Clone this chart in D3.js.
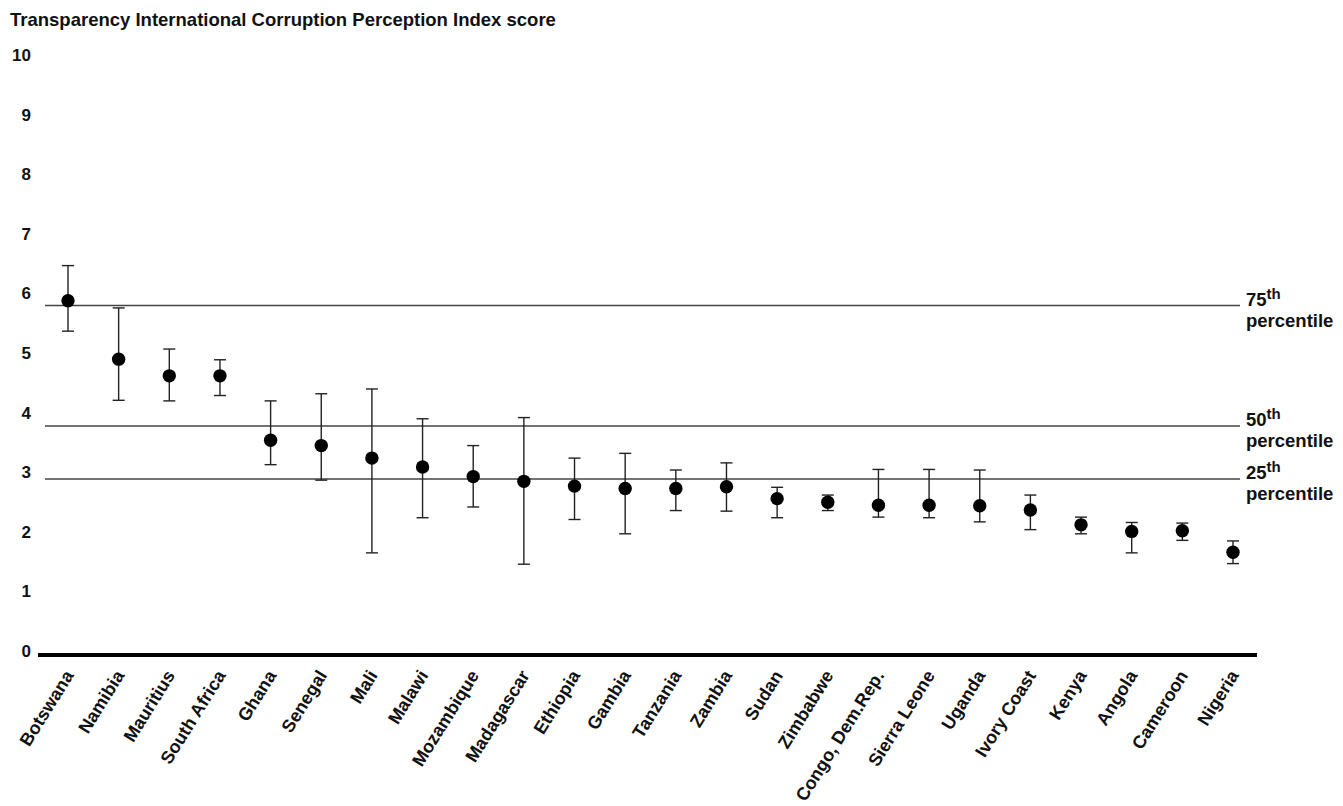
<!DOCTYPE html>
<html>
<head>
<meta charset="utf-8">
<script src="https://cdn.jsdelivr.net/npm/d3@7"></script>
<style>
  body { margin: 0; background: #fff; }
  text { font-family: "Liberation Sans", Arial, Helvetica, sans-serif; font-weight: bold; fill: #111; }
</style>
</head>
<body>
<div id="chart"></div>
<script>
var countries = ["Botswana", "Namibia", "Mauritius", "South Africa", "Ghana", "Senegal", "Mali", "Malawi",
  "Mozambique", "Madagascar", "Ethiopia", "Gambia", "Tanzania", "Zambia", "Sudan", "Zimbabwe",
  "Congo, Dem.Rep.", "Sierra Leone", "Uganda", "Ivory Coast", "Kenya", "Angola", "Cameroon", "Nigeria"];
var scores = [5.91, 4.93, 4.65, 4.65, 3.57, 3.48, 3.27, 3.12, 2.96, 2.88, 2.80, 2.76,
  2.76, 2.79, 2.59, 2.53, 2.48, 2.48, 2.47, 2.40, 2.15, 2.04, 2.05, 1.69];
var upper = [6.50, 5.79, 5.10, 4.92, 4.23, 4.35, 4.43, 3.93, 3.48, 3.95, 3.27, 3.35,
  3.07, 3.19, 2.78, 2.65, 3.08, 3.08, 3.07, 2.65, 2.28, 2.19, 2.18, 1.88];
var lower = [5.40, 4.24, 4.23, 4.32, 3.16, 2.90, 1.68, 2.27, 2.45, 1.49, 2.24, 2.00,
  2.39, 2.38, 2.27, 2.39, 2.28, 2.27, 2.20, 2.07, 2.00, 1.68, 1.89, 1.50];
var percentiles = [{p: "75", v: 5.83}, {p: "50", v: 3.81}, {p: "25", v: 2.92}];
var yTicks = [0, 1, 2, 3, 4, 5, 6, 7, 8, 9, 10];

var W = 1343, H = 806;
var svg = d3.select("#chart").append("svg")
    .attr("width", W)
    .attr("height", H);

var x = d3.scalePoint().domain(countries).range([68, 1233]);
var y = d3.scaleLinear().domain([0, 10]).range([653, 57]);

// title
svg.append("text")
   .attr("x", 10)
   .attr("y", 26)
   .style("font-size", "18.5px")
   .text("Transparency International Corruption Perception Index score");

// y labels (no tick marks in the original)
svg.append("g").selectAll("text")
   .data(yTicks)
   .join("text")
   .attr("x", 31)
   .attr("y", d => y(d) - 2)
   .attr("dy", "0.35em")
   .attr("text-anchor", "end")
   .style("font-size", "17px")
   .text(d => d);

// percentile lines
var pg = svg.append("g").selectAll("g")
   .data(percentiles)
   .join("g");
pg.append("line")
   .attr("x1", 45).attr("x2", 1240)
   .attr("y1", d => y(d.v)).attr("y2", d => y(d.v))
   .style("stroke", "#444")
   .style("stroke-width", 1.5);
var lt = pg.append("text")
   .attr("x", 1246)
   .attr("y", d => y(d.v))
   .style("font-size", "18.5px");
lt.append("tspan").text(d => d.p);
lt.append("tspan").attr("dy", "-0.45em").style("font-size", "15px").text("th");
pg.append("text")
   .attr("x", 1246)
   .attr("y", d => y(d.v) + 21)
   .style("font-size", "18.5px")
   .text("percentile");

// bottom axis line
svg.append("line")
   .attr("x1", 38).attr("x2", 1257)
   .attr("y1", y(0) + 2).attr("y2", y(0) + 2)
   .style("stroke", "#000")
   .style("stroke-width", 4);

// error bars
var rows = countries.map((c, i) => ({c: c, s: scores[i], hi: upper[i], lo: lower[i]}));
var eb = svg.append("g").selectAll("g")
   .data(rows)
   .join("g")
   .style("stroke", "#222")
   .style("stroke-width", 1.4);
eb.append("line")
   .attr("x1", d => x(d.c)).attr("x2", d => x(d.c))
   .attr("y1", d => y(d.hi)).attr("y2", d => y(d.lo));
eb.append("line")
   .attr("x1", d => x(d.c) - 6).attr("x2", d => x(d.c) + 6)
   .attr("y1", d => y(d.hi)).attr("y2", d => y(d.hi));
eb.append("line")
   .attr("x1", d => x(d.c) - 6).attr("x2", d => x(d.c) + 6)
   .attr("y1", d => y(d.lo)).attr("y2", d => y(d.lo));

// dots
svg.append("g").selectAll("circle")
   .data(rows)
   .join("circle")
   .attr("cx", d => x(d.c))
   .attr("cy", d => y(d.s))
   .attr("r", 6.7)
   .style("fill", "#000");

// country labels
svg.append("g").selectAll("text")
   .data(countries)
   .join("text")
   .attr("transform", d => `translate(${x(d) + 1},${672}) rotate(-58)`)
   .attr("text-anchor", "end")
   .attr("dy", "0.35em")
   .style("font-size", "18px")
   .text(d => d);
</script>
</body>
</html>
